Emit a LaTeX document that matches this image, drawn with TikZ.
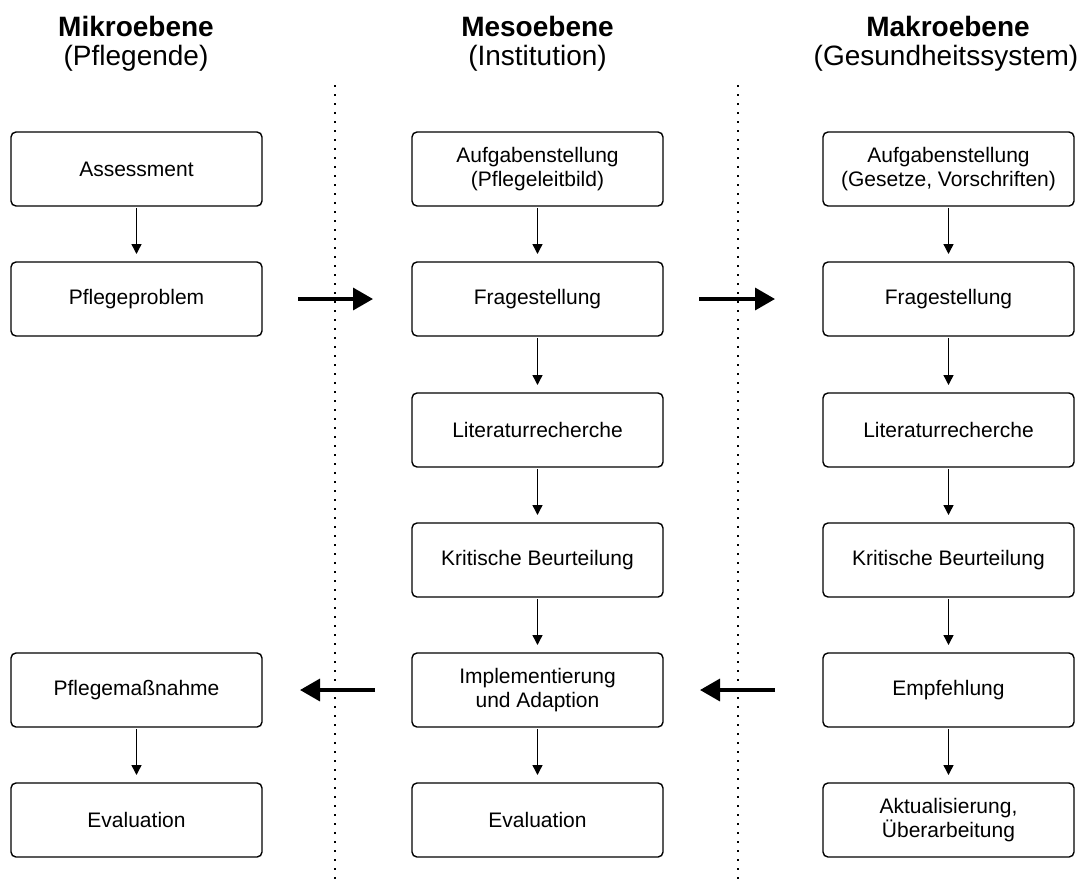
\documentclass[tikz,border=0pt]{standalone}
\usepackage{fontspec}
\setmainfont{Liberation Sans}
\usepackage{tikz}
\usetikzlibrary{positioning,arrows.meta}

\begin{document}
\begin{tikzpicture}[x=1pt,y=-1pt]
\tikzset{
  stufe/.style={draw, line width=1.4pt, rounded corners=5pt, minimum width=251pt,
    minimum height=74pt, inner sep=0pt, outer sep=0pt, align=center,
    font=\fontsize{21}{24}\selectfont},
  kopf/.style={anchor=base, font=\fontsize{28}{31}\selectfont},
  schritt/.style={-{Triangle[length=10pt,width=10pt]}, line width=1.4pt,
    shorten <=2pt, shorten >=8pt},
  ebene/.style={-{Triangle[length=20pt,width=22pt]}, line width=3.5pt},
  trenner/.style={line width=1.6pt, dash pattern=on 1.6pt off 7.4pt}
}
\useasboundingbox (0,0) rectangle (1084,884);

% Ueberschriften
\node[kopf] (mikro) at (136,36) {\textbf{Mikroebene}};
\node[kopf] (mikroSub) at (136,65) {(Pflegende)};
\node[kopf] (meso) at (537.5,36) {\textbf{Mesoebene}};
\node[kopf] (mesoSub) at (537.5,65) {(Institution)};
\node[kopf] (makro) at (948,36) {\textbf{Makroebene}};
\node[kopf] (makroSub) at (946,65) {(Gesundheitssystem)};

% Trennlinien
\coordinate (linksOben) at (335,85);
\coordinate (linksUnten) at (335,884);
\coordinate (rechtsOben) at (738,85);
\coordinate (rechtsUnten) at (738,884);
\draw[trenner] (linksOben) -- (linksUnten);
\draw[trenner] (rechtsOben) -- (rechtsUnten);

% Mesoebene
\node[stufe] (aufgabeB) at (537.5,169) {Aufgabenstellung\\(Pflegeleitbild)};
\node[stufe, below=56pt of aufgabeB] (frageB) {Fragestellung};
\node[stufe, below=57pt of frageB] (litB) {Literaturrecherche};
\node[stufe, below=56pt of litB] (kritB) {Kritische Beurteilung};
\node[stufe, below=56pt of kritB] (implB) {Implementierung\\und Adaption};
\node[stufe, below=56pt of implB] (evalB) {Evaluation};

% Mikroebene
\node[stufe, left=150pt of aufgabeB] (assess) {Assessment};
\node[stufe, left=150pt of frageB] (problem) {Pflegeproblem};
\node[stufe, left=150pt of implB] (massnahme) {Pflegema\ss nahme};
\node[stufe, left=150pt of evalB] (evalA) {Evaluation};

% Makroebene
\node[stufe, right=160pt of aufgabeB] (aufgabeC) {Aufgabenstellung\\(Gesetze, Vorschriften)};
\node[stufe, right=160pt of frageB] (frageC) {Fragestellung};
\node[stufe, right=160pt of litB] (litC) {Literaturrecherche};
\node[stufe, right=160pt of kritB] (kritC) {Kritische Beurteilung};
\node[stufe, right=160pt of implB] (empf) {Empfehlung};
\node[stufe, right=160pt of evalB] (aktual) {Aktualisierung,\\\"Uberarbeitung};

\draw[schritt] (assess) -- (problem);
\draw[schritt] (massnahme) -- (evalA);
\draw[schritt] (aufgabeB) -- (frageB);
\draw[schritt] (frageB) -- (litB);
\draw[schritt] (litB) -- (kritB);
\draw[schritt] (kritB) -- (implB);
\draw[schritt] (implB) -- (evalB);
\draw[schritt] (aufgabeC) -- (frageC);
\draw[schritt] (frageC) -- (litC);
\draw[schritt] (litC) -- (kritC);
\draw[schritt] (kritC) -- (empf);
\draw[schritt] (empf) -- (aktual);

\draw[ebene, shorten <=36pt, shorten >=39pt] (problem) -- (frageB);
\draw[ebene, shorten <=36pt, shorten >=48pt] (frageB) -- (frageC);
\draw[ebene, shorten <=37pt, shorten >=38pt] (implB) -- (massnahme);
\draw[ebene, shorten <=48pt, shorten >=37pt] (empf) -- (implB);
\end{tikzpicture}
\end{document}
